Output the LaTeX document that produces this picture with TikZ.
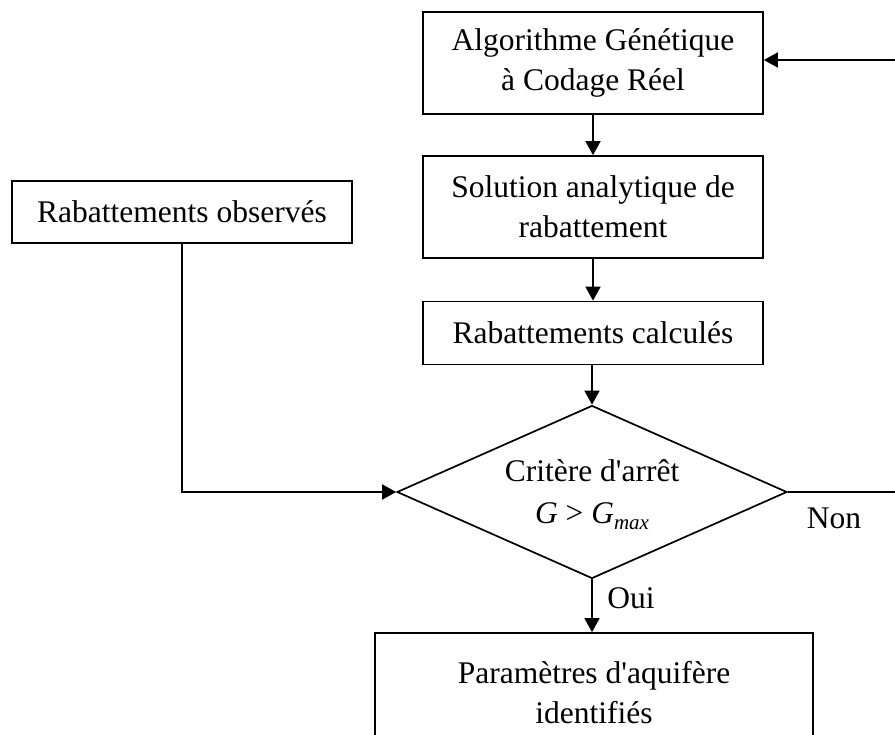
\documentclass[tikz,border=0pt]{standalone}
\usepackage{fontspec}
\setmainfont{Liberation Serif}
\usetikzlibrary{shapes.geometric,arrows.meta}
\begin{document}
\begin{tikzpicture}[x=1pt,y=-1pt,
  every node/.style={font=\fontsize{31.5}{40}\selectfont},
  box/.style={draw,line width=1.7pt,rectangle,align=center,inner sep=0pt},
  dec/.style={draw,line width=1.7pt,diamond,aspect=2.25,inner sep=0pt,align=center},
  lab/.style={inner sep=0pt},
  arr/.style={line width=1.7pt,-{Triangle[length=14pt,width=15pt]}},
  ln/.style={line width=1.7pt}]
\path[use as bounding box,clip] (0,0) rectangle (895,735);
\node[box,minimum width=340pt,minimum height=102pt] (ag) at (593,63) {Algorithme Génétique\\à Codage Réel};
\node[box,minimum width=340pt,minimum height=102pt] (sol) at (593,207) {Solution analytique de\\rabattement};
\node[box,minimum width=340pt,minimum height=63pt] (calc) at (593,333) {Rabattements calculés};
\node[box,minimum width=340pt,minimum height=62pt] (obs) at (182,212) {Rabattements observés};
\node[dec,minimum width=390pt,minimum height=173pt] (dia) at (592,492) {};
\node[lab] (crit) at (592,471) {Critère d\textquotesingle arrêt};
\node[lab] (gmax) at (592,516) {\textit{G} > \textit{G}\raisebox{-0.2em}{\fontsize{21}{21}\selectfont\textit{max}}};
\node[box,minimum width=438pt,minimum height=120pt] (par) at (594,693) {Paramètres d\textquotesingle aquifère\\identifiés};
\node[lab] (non) at (834,518) {Non};
\node[lab] (oui) at (631,598) {Oui};
\coordinate (r1) at (905,492);
\coordinate (r2) at (905,60);
\draw[arr] (ag) -- (sol);
\draw[arr] (sol) -- (calc);
\draw[arr] (calc.south -| dia.north) -- (dia.north);
\draw[arr] (obs.south) |- (dia.west);
\draw[arr] (dia.south) -- (par.north -| dia.south);
\draw[arr] (dia.east) -- (r1) -- (r2) -- (ag.east |- r2);
\end{tikzpicture}
\end{document}
